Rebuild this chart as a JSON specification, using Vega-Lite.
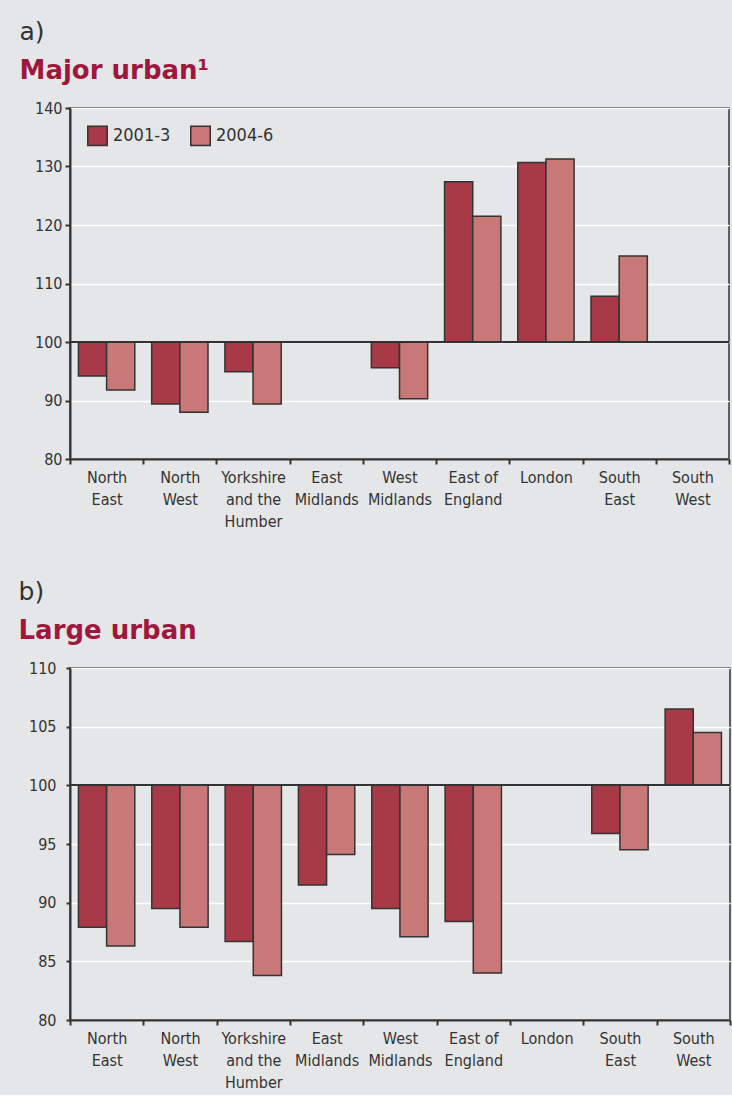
{
  "$schema": "https://vega.github.io/schema/vega-lite/v6.json",
  "background": "#e5e6e8",
  "padding": {"left": 17, "top": 19, "right": 2, "bottom": 4},
  "spacing": 49,
  "columns": 1,
  "align": "none",
  "config": {
    "font": "DejaVu Sans Condensed, sans-serif",
    "view": {"stroke": "#333333", "strokeWidth": 1.5},
    "axis": {
      "labelFont": "DejaVu Sans Condensed, sans-serif",
      "labelColor": "#333333",
      "labelFontSize": 16,
      "domainColor": "#333333",
      "domainWidth": 2,
      "tickColor": "#333333",
      "tickWidth": 2,
      "tickSize": 5,
      "gridColor": "#ffffff",
      "gridWidth": 1.5,
      "gridOpacity": 1
    },
    "legend": {
      "orient": "top-left",
      "direction": "horizontal",
      "padding": 0,
      "symbolType": "square",
      "symbolSize": 380,
      "symbolStrokeColor": "#333333",
      "symbolStrokeWidth": 1.5,
      "symbolOpacity": 1,
      "labelFont": "DejaVu Sans Condensed, sans-serif",
      "labelFontSize": 18,
      "labelColor": "#333333",
      "labelOffset": 5,
      "columnPadding": 16
    },
    "title": {
      "anchor": "start",
      "frame": "bounds",
      "font": "DejaVu Sans",
      "fontSize": 25,
      "fontWeight": 400,
      "color": "#333333",
      "subtitleFont": "DejaVu Sans",
      "subtitleFontSize": 26,
      "subtitleFontWeight": 700,
      "subtitleColor": "#a0173d",
      "subtitlePadding": 13,
      "offset": 16
    }
  },
  "datasets": {
    "major": [
      {"region": "North East", "period": "2001-3", "value": 94.2},
      {"region": "North East", "period": "2004-6", "value": 91.8},
      {"region": "North West", "period": "2001-3", "value": 89.4},
      {"region": "North West", "period": "2004-6", "value": 88.0},
      {"region": "Yorkshire and the Humber", "period": "2001-3", "value": 94.9},
      {"region": "Yorkshire and the Humber", "period": "2004-6", "value": 89.4},
      {"region": "West Midlands", "period": "2001-3", "value": 95.6},
      {"region": "West Midlands", "period": "2004-6", "value": 90.3},
      {"region": "East of England", "period": "2001-3", "value": 127.4},
      {"region": "East of England", "period": "2004-6", "value": 121.5},
      {"region": "London", "period": "2001-3", "value": 130.7},
      {"region": "London", "period": "2004-6", "value": 131.3},
      {"region": "South East", "period": "2001-3", "value": 107.8},
      {"region": "South East", "period": "2004-6", "value": 114.7}
    ],
    "large": [
      {"region": "North East", "period": "2001-3", "value": 87.9},
      {"region": "North East", "period": "2004-6", "value": 86.3},
      {"region": "North West", "period": "2001-3", "value": 89.5},
      {"region": "North West", "period": "2004-6", "value": 87.9},
      {"region": "Yorkshire and the Humber", "period": "2001-3", "value": 86.7},
      {"region": "Yorkshire and the Humber", "period": "2004-6", "value": 83.8},
      {"region": "East Midlands", "period": "2001-3", "value": 91.5},
      {"region": "East Midlands", "period": "2004-6", "value": 94.1},
      {"region": "West Midlands", "period": "2001-3", "value": 89.5},
      {"region": "West Midlands", "period": "2004-6", "value": 87.1},
      {"region": "East of England", "period": "2001-3", "value": 88.4},
      {"region": "East of England", "period": "2004-6", "value": 84.0},
      {"region": "South East", "period": "2001-3", "value": 95.9},
      {"region": "South East", "period": "2004-6", "value": 94.5},
      {"region": "South West", "period": "2001-3", "value": 106.5},
      {"region": "South West", "period": "2004-6", "value": 104.5}
    ]
  },
  "concat": [
    {
      "width": 659,
      "height": 351,
      "title": {"text": "a)", "subtitle": "Major urban¹", "dx": -15},
      "data": {"name": "major"},
      "layer": [
        {
          "mark": {"type": "bar", "stroke": "#333333", "strokeWidth": 1.5},
          "encoding": {
            "x": {
              "field": "region", "type": "nominal", "title": null,
              "scale": {"domain": ["North East", "North West", "Yorkshire and the Humber", "East Midlands", "West Midlands", "East of England", "London", "South East", "South West"], "paddingInner": 0, "paddingOuter": 0},
              "axis": {"labelAngle": 0, "tickBand": "extent", "labelPadding": 5, "labelLineHeight": 22, "labelBaseline": "top",
                "labelExpr": "!isValid(datum.value) ? '' : datum.value == 'Yorkshire and the Humber' ? ['Yorkshire', 'and the', 'Humber'] : datum.value == 'East of England' ? ['East of', 'England'] : split(datum.value, ' ')"}
            },
            "xOffset": {"field": "period", "type": "nominal", "scale": {"domain": ["2001-3", "2004-6"], "paddingInner": 0, "paddingOuter": 0.3}},
            "y": {
              "field": "value", "type": "quantitative", "title": null,
              "scale": {"domain": [80, 140], "zero": false, "nice": false},
              "axis": {"values": [80, 90, 100, 110, 120, 130, 140], "labelPadding": 3, "tickSize": 5}
            },
            "y2": {"datum": 100},
            "color": {
              "field": "period", "type": "nominal",
              "scale": {"domain": ["2001-3", "2004-6"], "range": ["#a83a47", "#c97878"]},
              "legend": {"title": null, "offset": 17}
            }
          }
        },
        {
          "mark": {"type": "rule", "color": "#333333", "strokeWidth": 1.5},
          "encoding": {"y": {"datum": 100}}
        }
      ]
    },
    {
      "width": 660,
      "height": 352,
      "title": {"text": "b)", "subtitle": "Large urban", "dx": -10},
      "data": {"name": "large"},
      "layer": [
        {
          "mark": {"type": "bar", "stroke": "#333333", "strokeWidth": 1.5},
          "encoding": {
            "x": {
              "field": "region", "type": "nominal", "title": null,
              "scale": {"domain": ["North East", "North West", "Yorkshire and the Humber", "East Midlands", "West Midlands", "East of England", "London", "South East", "South West"], "paddingInner": 0, "paddingOuter": 0},
              "axis": {"labelAngle": 0, "tickBand": "extent", "labelPadding": 5, "labelLineHeight": 22, "labelBaseline": "top",
                "labelExpr": "!isValid(datum.value) ? '' : datum.value == 'Yorkshire and the Humber' ? ['Yorkshire', 'and the', 'Humber'] : datum.value == 'East of England' ? ['East of', 'England'] : split(datum.value, ' ')"}
            },
            "xOffset": {"field": "period", "type": "nominal", "scale": {"domain": ["2001-3", "2004-6"], "paddingInner": 0, "paddingOuter": 0.3}},
            "y": {
              "field": "value", "type": "quantitative", "title": null,
              "scale": {"domain": [80, 110], "zero": false, "nice": false},
              "axis": {"values": [80, 85, 90, 95, 100, 105, 110], "labelPadding": 10, "tickSize": 4}
            },
            "y2": {"datum": 100},
            "color": {
              "field": "period", "type": "nominal",
              "scale": {"domain": ["2001-3", "2004-6"], "range": ["#a83a47", "#c97878"]},
              "legend": {"title": null, "offset": 23}
            }
          }
        },
        {
          "mark": {"type": "rule", "color": "#333333", "strokeWidth": 1.5},
          "encoding": {"y": {"datum": 100}}
        }
      ]
    }
  ]
}
